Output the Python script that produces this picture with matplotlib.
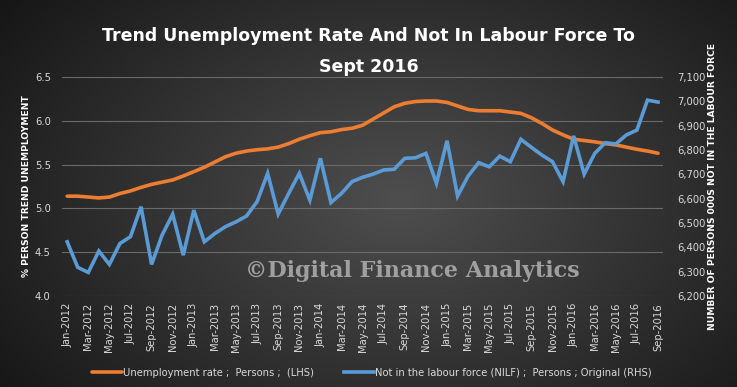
import numpy as np
import matplotlib
matplotlib.use("Agg")
import matplotlib.pyplot as plt
import pandas as pd

months = pd.date_range("2012-01-01", "2016-09-01", freq="MS")
month_labels = [d.strftime("%b-%Y") for d in months]

unemp_rate = [5.14, 5.14, 5.13, 5.12, 5.13, 5.17, 5.20, 5.24, 5.275, 5.30,
              5.325, 5.37, 5.42, 5.47, 5.53, 5.59, 5.63, 5.655, 5.67, 5.68,
              5.70, 5.74, 5.79, 5.83, 5.865, 5.875, 5.90, 5.915, 5.95, 6.02,
              6.09, 6.16, 6.20, 6.22, 6.226, 6.226, 6.21, 6.17, 6.13, 6.115,
              6.115, 6.115, 6.10, 6.085, 6.035, 5.97, 5.895, 5.84, 5.79, 5.775,
              5.76, 5.74, 5.725, 5.70, 5.675, 5.655, 5.63]

nilf = [6423, 6318, 6297, 6385, 6330, 6416, 6444, 6567, 6330, 6451,
        6536, 6368, 6553, 6423, 6457, 6485, 6505, 6529, 6588, 6704,
        6537, 6622, 6704, 6594, 6766, 6584, 6622, 6670, 6688, 6701,
        6718, 6721, 6766, 6768, 6786, 6663, 6838, 6611, 6693, 6748,
        6731, 6775, 6752, 6844, 6811, 6779, 6752, 6670, 6858, 6701,
        6786, 6830, 6825, 6862, 6882, 7005, 6997]

left_ticks = [4.0, 4.5, 5.0, 5.5, 6.0, 6.5]
right_ticks = list(range(6200, 7101, 100))

orange = "#ED7D31"
blue = "#5B9BD5"
txt = "#d9d9d9"

fig = plt.figure(figsize=(7.37, 3.87), dpi=100)

# radial gradient background
bg = fig.add_axes([0, 0, 1, 1], zorder=-10)
yy, xx = np.mgrid[0:387, 0:737]
r = np.sqrt(((xx - 400) / 500.0) ** 2 + ((yy - 200) / 330.0) ** 2)
shade = np.clip(0.31 - 0.22 * r, 0.09, 0.31)
bg.imshow(shade, cmap="gray", vmin=0, vmax=1, aspect="auto", extent=[0, 1, 0, 1])
bg.axis("off")

ax = fig.add_axes([0.084, 0.235, 0.816, 0.566])
ax.patch.set_alpha(0)
x = np.arange(len(months))
ax.plot(x, unemp_rate, color=orange, lw=2.6, solid_capstyle="round",
        label="Unemployment rate ;  Persons ;  (LHS)")
ax.set_ylim(4.0, 6.5)
ax.set_xlim(-0.5, len(months) - 0.5)
ax.set_yticks(left_ticks)
ax.set_yticklabels([f"{t:.1f}" for t in left_ticks])
ax.grid(axis="y", color="#6a6a6a", lw=0.8)
ax.set_axisbelow(True)
ax.set_xticks(x[::2])
ax.set_xticklabels(month_labels[::2], rotation=90)
for s in ax.spines.values():
    s.set_visible(False)
ax.tick_params(colors=txt, length=0, labelsize=7.2, pad=8)
ax.tick_params(axis="x", labelsize=7.2, pad=5)
ax.set_ylabel("% PERSON TREND UNEMPLOYMENT", color="white", fontweight="bold",
              fontsize=6.6, labelpad=3)

ax2 = ax.twinx()
ax2.plot(x, nilf, color=blue, lw=2.6, solid_joinstyle="miter",
         label="Not in the labour force (NILF) ;  Persons ; Original (RHS)")
ax2.set_ylim(6200, 7100)
ax2.set_yticks(right_ticks)
ax2.set_yticklabels([f"{t:,}" for t in right_ticks])
for s in ax2.spines.values():
    s.set_visible(False)
ax2.tick_params(colors=txt, length=0, labelsize=7.2, pad=10)
ax2.set_ylabel("NUMBER OF PERSONS 000S NOT IN THE LABOUR FORCE", color="white",
               fontweight="bold", fontsize=6.6, labelpad=2)

fig.text(0.5, 0.867, "Trend Unemployment Rate And Not In Labour Force To\nSept 2016",
         ha="center", va="center", color="white", fontsize=12.5, fontweight="bold",
         linespacing=1.9)

fig.text(0.56, 0.30, "\u00a9Digital Finance Analytics", ha="center", va="center",
         family="DejaVu Serif", fontweight="bold", fontsize=16, color="#ababab",
         alpha=0.9)

h1, l1 = ax.get_legend_handles_labels()
h2, l2 = ax2.get_legend_handles_labels()
fig.legend(h1 + h2, l1 + l2, loc="center", bbox_to_anchor=(0.505, 0.037), ncol=2,
           frameon=False, labelcolor=txt, fontsize=7.2, handlelength=3,
           handletextpad=0.1, columnspacing=3.0)

fig.savefig("out.png", dpi=100)
